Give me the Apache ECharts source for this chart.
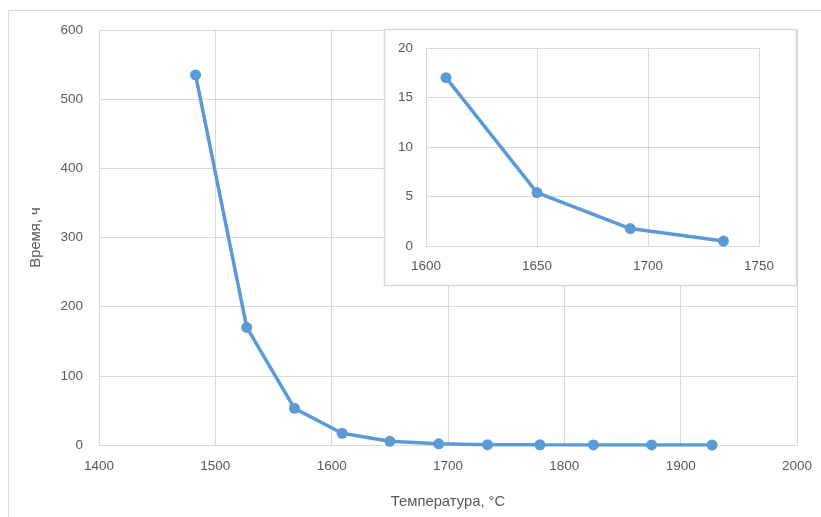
<!DOCTYPE html>
<html>
<head>
<meta charset="utf-8">
<script src="https://cdn.jsdelivr.net/npm/echarts@6/dist/echarts.min.js"></script>
<style>
html,body{margin:0;padding:0;background:#fff;}
#chart{width:821px;height:517px;}
</style>
</head>
<body>
<div id="chart"></div>
<script>
// Main chart data
var temps = [1483, 1527, 1568, 1609, 1650, 1692, 1734, 1779, 1825, 1875, 1927];
var times = [535, 170, 53, 17, 5.4, 1.76, 0.5, 0.2, 0.1, 0.05, 0.02];
// Inset data
var insetTemps = [1609, 1650, 1692, 1734];
var insetTimes = [17, 5.4, 1.76, 0.5];
// Tick settings
var mainXTicks = {min: 1400, max: 2000, interval: 100};
var mainYTicks = {min: 0, max: 600, interval: 100};
var insetXTicks = {min: 1600, max: 1750, interval: 50};
var insetYTicks = {min: 0, max: 20, interval: 5};
var xName = 'Температура, °C';
var yName = 'Время, ч';

function pairs(xs, ys){ return xs.map(function(x,i){ return [x, ys[i]]; }); }
function plain(v){ return String(v); }

var textColor = '#595959';
var gridColor = '#d9d9d9';
var lineColor = '#5B9BD5';
var font = 'Liberation Sans';
var fs = 13.5;
var nameFs = 14.8;

var chart = echarts.init(document.getElementById('chart'), null, {renderer:'canvas'});
chart.setOption({
  animation: false,
  backgroundColor: '#fff',
  textStyle: {fontFamily: font},
  graphic: [
    {type:'rect', z: 0, silent:true, shape:{x:8.5, y:10.5, width:900, height:700}, style:{fill:'none', stroke:gridColor, lineWidth:1}},
    {type:'rect', z: 5, silent:true, shape:{x:384.5, y:29.5, width:412, height:256}, style:{fill:'#fff', stroke:gridColor, lineWidth:1.5}}
  ],
  grid: [
    {left: 99, right: 24, top: 30, bottom: 72, containLabel:false},
    {left: 426, right: 62, top: 48, bottom: 271, containLabel:false}
  ],
  xAxis: [
    {type:'value', gridIndex:0, min:mainXTicks.min, max:mainXTicks.max, interval:mainXTicks.interval,
     name:xName, nameLocation:'middle', nameGap:49, nameTextStyle:{color:textColor, fontSize:nameFs, fontFamily:font},
     axisLine:{show:true, lineStyle:{color:gridColor}}, axisTick:{show:false},
     axisLabel:{color:textColor, fontSize:fs, fontFamily:font, margin:14, formatter:plain},
     splitLine:{show:true, lineStyle:{color:gridColor}}},
    {type:'value', gridIndex:1, z:6, min:insetXTicks.min, max:insetXTicks.max, interval:insetXTicks.interval,
     axisLine:{show:true, lineStyle:{color:gridColor}}, axisTick:{show:false},
     axisLabel:{color:textColor, fontSize:fs, fontFamily:font, margin:13, formatter:plain},
     splitLine:{show:true, lineStyle:{color:gridColor}}}
  ],
  yAxis: [
    {type:'value', gridIndex:0, min:mainYTicks.min, max:mainYTicks.max, interval:mainYTicks.interval,
     name:yName, nameLocation:'middle', nameGap:56, nameTextStyle:{color:textColor, fontSize:nameFs, fontFamily:font},
     axisLine:{show:false}, axisTick:{show:false},
     axisLabel:{color:textColor, fontSize:fs, fontFamily:font, margin:16, formatter:plain},
     splitLine:{show:true, lineStyle:{color:gridColor}}},
    {type:'value', gridIndex:1, z:6, min:insetYTicks.min, max:insetYTicks.max, interval:insetYTicks.interval,
     axisLine:{show:false}, axisTick:{show:false},
     axisLabel:{color:textColor, fontSize:fs, fontFamily:font, margin:13, formatter:plain},
     splitLine:{show:true, lineStyle:{color:gridColor}}}
  ],
  series: [
    {type:'line', xAxisIndex:0, yAxisIndex:0, data:pairs(temps, times), symbol:'circle', symbolSize:11,
     lineStyle:{color:lineColor, width:3.5}, itemStyle:{color:lineColor}, z:3},
    {type:'line', xAxisIndex:1, yAxisIndex:1, data:pairs(insetTemps, insetTimes), symbol:'circle', symbolSize:11,
     lineStyle:{color:lineColor, width:3.5}, itemStyle:{color:lineColor}, z:7}
  ]
});
</script>
</body>
</html>
